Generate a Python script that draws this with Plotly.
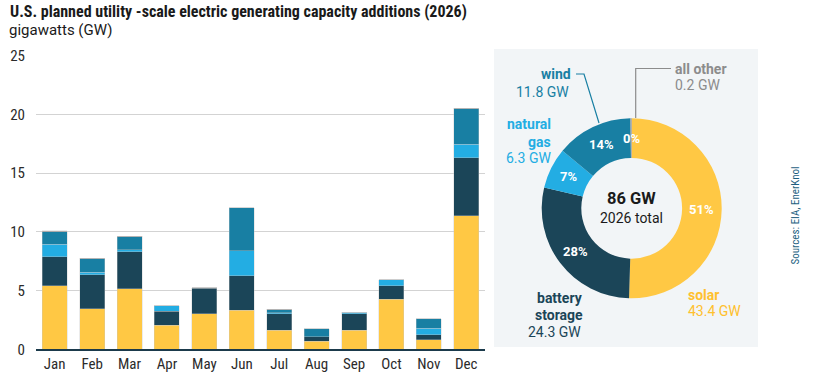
import plotly.graph_objects as go
import numpy as np

W, H = 824, 388

months = ["Jan", "Feb", "Mar", "Apr", "May", "Jun", "Jul", "Aug", "Sep", "Oct", "Nov", "Dec"]
solar = [5.42, 3.46, 5.16, 2.04, 3.03, 3.32, 1.64, 0.68, 1.62, 4.28, 0.82, 11.35]
battery = [2.44, 2.90, 3.15, 1.22, 2.16, 2.95, 1.39, 0.37, 1.41, 1.11, 0.43, 4.94]
gas = [1.08, 0.22, 0.15, 0.46, 0.03, 2.13, 0.10, 0.00, 0.12, 0.51, 0.56, 1.17]
wind = [1.08, 1.14, 1.11, 0.00, 0.03, 3.66, 0.25, 0.71, 0.00, 0.03, 0.80, 3.03]
other = [0.06, 0.02, 0.05, 0.00, 0.00, 0.00, 0.02, 0.00, 0.00, 0.00, 0.00, 0.05]

y_ticks = [0, 5, 10, 15, 20, 25]

donut_names = ["solar", "battery storage", "natural gas", "wind", "all other"]
donut_values = [43.4, 24.3, 6.3, 11.8, 0.2]
donut_pct = ["51%", "28%", "7%", "14%", "0%"]
donut_total = "86 GW"
donut_sub = "2026 total"

C_SOLAR = "#ffc844"
C_BATT = "#1b4558"
C_GAS = "#23ade3"
C_WIND = "#187fa3"
C_OTHER = "#9a9a9a"
colors = [C_SOLAR, C_BATT, C_GAS, C_WIND, C_OTHER]

NARROW = "Liberation Sans Narrow, Roboto Condensed, DejaVu Sans Condensed, sans-serif"
ROB = "Roboto, Noto Sans, sans-serif"
TXT = "#2b2b2b"

def px(x):
    return x / W

def py(y):
    return 1 - y / H

fig = go.Figure()
for name, vals, col in [("solar", solar, C_SOLAR), ("battery storage", battery, C_BATT),
                        ("natural gas", gas, C_GAS), ("wind", wind, C_WIND), ("all other", other, C_OTHER)]:
    fig.add_trace(go.Bar(x=months, y=vals, name=name,
                         marker=dict(color=col, line=dict(width=0.6, color="rgba(200,200,200,0.6)")),
                         showlegend=False, hoverinfo="skip"))

# donut geometry
cx, cy, R = 631.7, 208.3, 90
hole = 0.56
fig.add_trace(go.Pie(values=donut_values, labels=donut_names, marker=dict(colors=colors, line=dict(width=0)),
                     sort=False, direction="clockwise", rotation=0, hole=hole, textinfo="none",
                     showlegend=False, hoverinfo="skip",
                     domain=dict(x=[px(cx - R), px(cx + R)], y=[py(cy + R), py(cy - R)])))

# background panel
shapes = [dict(type="rect", xref="paper", yref="paper", x0=px(494), x1=px(758), y0=py(347), y1=py(49),
               fillcolor="#f2f5f7", line=dict(width=0), layer="below")]

annotations = []
annotations.append(dict(text="<b>U.S. planned utility -scale electric generating capacity additions (2026)</b>",
                        x=px(8), y=py(11), xref="paper", yref="paper", xanchor="left", yanchor="middle",
                        showarrow=False, font=dict(family=NARROW, size=16, color="#1a1a1a")))
annotations.append(dict(text="gigawatts (GW)", x=px(7), y=py(30), xref="paper", yref="paper",
                        xanchor="left", yanchor="middle", showarrow=False,
                        font=dict(family=ROB, size=15, color="#1a1a1a")))

# percentage labels positioned from slice angles
total = sum(donut_values)
cum = 0
rmid = R * (1 + hole) / 2
for v, lab in zip(donut_values, donut_pct):
    mid = (cum + v / 2) / total * 2 * np.pi
    cum += v
    lx = cx + rmid * np.sin(mid)
    ly = cy - rmid * np.cos(mid)
    annotations.append(dict(text="<b>" + lab + "</b>", x=px(lx), y=py(ly), xref="paper", yref="paper",
                            xanchor="center", yanchor="middle",
                            showarrow=False, font=dict(family=ROB, size=13, color="white")))

annotations.append(dict(text="<b>" + donut_total + "</b>", x=px(cx), y=py(199), xref="paper", yref="paper",
                        xanchor="center", yanchor="middle",
                        showarrow=False, font=dict(family=ROB, size=16.5, color="#1a1a1a")))
annotations.append(dict(text=donut_sub, x=px(cx), y=py(218), xref="paper", yref="paper",
                        xanchor="center", yanchor="middle",
                        showarrow=False, font=dict(family=ROB, size=14, color="#1a1a1a")))

def lab(text, x, y, anchor, color, bold=False, size=14):
    t = "<b>" + text + "</b>" if bold else text
    annotations.append(dict(text=t, x=px(x), y=py(y), xref="paper", yref="paper", xanchor=anchor,
                            yanchor="middle", showarrow=False, align=anchor, borderpad=0,
                            font=dict(family=ROB, size=size, color=color)))

lab("wind", 572, 74, "right", C_WIND, True)
lab("11.8 GW", 570, 91.5, "right", C_WIND)
lab("natural", 552, 124, "right", C_GAS, True)
lab("gas", 552, 141.5, "right", C_GAS, True)
lab("6.3 GW", 552, 158, "right", C_GAS)
lab("battery", 584, 298, "right", C_BATT, True)
lab("storage", 584, 315, "right", C_BATT, True)
lab("24.3 GW", 582, 331.5, "right", C_BATT)
lab("solar", 687, 295, "left", "#ffc02e", True)
lab("43.4 GW", 687, 311, "left", "#ffc02e")
lab("all other", 674, 69, "left", "#8c8c8c", True)
lab("0.2 GW", 674, 85, "left", "#8c8c8c")

shapes.append(dict(type="path", xref="paper", yref="paper",
                   path=f"M {px(576)} {py(74)} L {px(584)} {py(74)} L {px(599)} {py(123)}",
                   line=dict(color=C_WIND, width=1.2)))
shapes.append(dict(type="path", xref="paper", yref="paper",
                   path=f"M {px(635.7)} {py(118)} L {px(635.7)} {py(68.5)} L {px(671)} {py(68.5)}",
                   line=dict(color="#8c8c8c", width=1.2)))

annotations.append(dict(text="Sources: EIA, EnerKnol", x=px(803), y=py(267), xref="paper", yref="paper",
                        textangle=-90, showarrow=False, font=dict(family=NARROW, size=11, color="#1d5f7f")))

fig.update_layout(
    width=W, height=H, margin=dict(l=0, r=0, t=0, b=0, autoexpand=False),
    autosize=False,
    paper_bgcolor="white", plot_bgcolor="white",
    barmode="stack", bargap=0.33,
    font=dict(family=NARROW, color=TXT),
    xaxis=dict(domain=[px(36), px(485)], showgrid=False, showline=True, linecolor="#1b3a4b", linewidth=1.5,
               ticks="", tickfont=dict(size=15, color=TXT), fixedrange=True, automargin=False),
    yaxis=dict(domain=[py(349.3), py(55.6)], range=[0, 25], tickvals=y_ticks, showgrid=True,
               gridcolor="#d3d3d3", gridwidth=1, zeroline=False, showline=False, automargin=False,
               tickfont=dict(size=15, color=TXT), ticklabelstandoff=10, fixedrange=True),
    shapes=shapes, annotations=annotations,
)

post = ("document.body.style.margin='0';document.body.style.padding='0';"
        "document.body.style.overflow='hidden';document.documentElement.style.overflow='hidden';")
fig.write_html("out.html", config={"responsive": False, "displayModeBar": False}, post_script=post)
